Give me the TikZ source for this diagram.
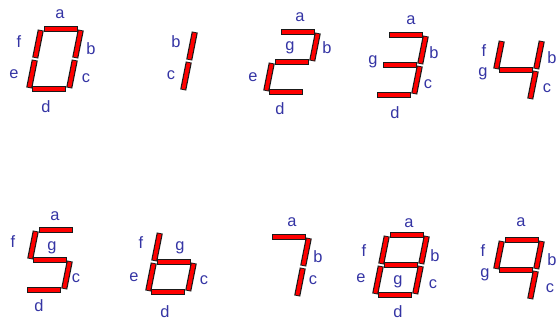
\documentclass[tikz,border=0pt]{standalone}
\usepackage{fontspec}
\setmainfont{Liberation Sans}
\definecolor{segFill}{HTML}{FF0000}
\definecolor{segEdge}{HTML}{1A1A1A}
\definecolor{labelBlue}{HTML}{3434A4}
\tikzset{
  hseg/.style={draw=segFill, line width=3.2pt, shorten <=3.4pt, shorten >=3.4pt,
    preaction={draw=segEdge, line width=5.2pt, shorten <=2.7pt, shorten >=2.7pt}},
  vseg/.style={draw=segFill, line width=3.2pt, shorten <=1.6pt, shorten >=1.6pt,
    preaction={draw=segEdge, line width=5.2pt, shorten <=0.9pt, shorten >=0.9pt}},
  seglabel/.style={font=\fontsize{14}{14}\selectfont, text=labelBlue, inner sep=0pt},
}
% corner points of one digit, bottom-left at the scope origin
\newcommand{\digitframe}{%
  \coordinate (bl) at (0,0);     \coordinate (br) at (40,0);
  \coordinate (ml) at (6,-30);   \coordinate (mr) at (46,-30);
  \coordinate (tl) at (12,-60);  \coordinate (tr) at (52,-60);}

\begin{document}
\begin{tikzpicture}[x=0.03cm, y=-0.03cm]
  \useasboundingbox (0,0) rectangle (557,320);

  % === Top row: 0 ===
  \begin{scope}[shift={(29,89)}]
    \digitframe
    \draw[hseg] (tl) -- (tr);
    \draw[vseg] (tr) -- (mr);
    \draw[vseg] (mr) -- (br);
    \draw[hseg] (bl) -- (br);
    \draw[vseg] (ml) -- (bl);
    \draw[vseg] (tl) -- (ml);
  \end{scope}
  \node[seglabel] (a0) at (60,14) {a};
  \node[seglabel] (b0) at (91,49) {b};
  \node[seglabel] (c0) at (86,78) {c};
  \node[seglabel] (d0) at (46,107) {d};
  \node[seglabel] (e0) at (14,74) {e};
  \node[seglabel] (f0) at (19,42) {f};

  % === Top row: 1 ===
  \begin{scope}[shift={(143,91)}]
    \digitframe
    \draw[vseg] (tr) -- (mr);
    \draw[vseg] (mr) -- (br);
  \end{scope}
  \node[seglabel] (b1) at (176,42) {b};
  \node[seglabel] (c1) at (171,75) {c};

  % === Top row: 2 ===
  \begin{scope}[shift={(266,92)}]
    \digitframe
    \draw[hseg] (tl) -- (tr);
    \draw[vseg] (tr) -- (mr);
    \draw[hseg] (ml) -- (mr);
    \draw[vseg] (ml) -- (bl);
    \draw[hseg] (bl) -- (br);
  \end{scope}
  \node[seglabel] (a2) at (300,17) {a};
  \node[seglabel] (b2) at (327,48) {b};
  \node[seglabel] (g2) at (290,48) {g};
  \node[seglabel] (e2) at (253,77) {e};
  \node[seglabel] (d2) at (280,109) {d};

  % === Top row: 3 ===
  \begin{scope}[shift={(374,95)}]
    \digitframe
    \draw[hseg] (tl) -- (tr);
    \draw[vseg] (tr) -- (mr);
    \draw[hseg] (ml) -- (mr);
    \draw[vseg] (mr) -- (br);
    \draw[hseg] (bl) -- (br);
  \end{scope}
  \node[seglabel] (a3) at (411,20) {a};
  \node[seglabel] (b3) at (434,53) {b};
  \node[seglabel] (g3) at (373,62) {g};
  \node[seglabel] (c3) at (428,84) {c};
  \node[seglabel] (d3) at (395,113) {d};

  % === Top row: 4 ===
  \begin{scope}[shift={(490,100)}]
    \digitframe
    \draw[vseg] (tl) -- (ml);
    \draw[hseg] (ml) -- (mr);
    \draw[vseg] (tr) -- (mr);
    \draw[vseg] (mr) -- (br);
  \end{scope}
  \node[seglabel] (f4) at (484,51) {f};
  \node[seglabel] (g4) at (483,74) {g};
  \node[seglabel] (b4) at (552,58) {b};
  \node[seglabel] (c4) at (547,88) {c};

  % === Bottom row: 5 ===
  \begin{scope}[shift={(24,290)}]
    \digitframe
    \draw[hseg] (tl) -- (tr);
    \draw[vseg] (tl) -- (ml);
    \draw[hseg] (ml) -- (mr);
    \draw[vseg] (mr) -- (br);
    \draw[hseg] (bl) -- (br);
  \end{scope}
  \node[seglabel] (a5) at (55,216) {a};
  \node[seglabel] (f5) at (13,242) {f};
  \node[seglabel] (g5) at (52,248) {g};
  \node[seglabel] (c5) at (76,278) {c};
  \node[seglabel] (d5) at (39,306) {d};

  % === Bottom row: 6 ===
  \begin{scope}[shift={(148,292)}]
    \digitframe
    \draw[vseg] (tl) -- (ml);
    \draw[hseg] (ml) -- (mr);
    \draw[vseg] (ml) -- (bl);
    \draw[vseg] (mr) -- (br);
    \draw[hseg] (bl) -- (br);
  \end{scope}
  \node[seglabel] (f6) at (141,243) {f};
  \node[seglabel] (g6) at (180,248) {g};
  \node[seglabel] (e6) at (134,277) {e};
  \node[seglabel] (c6) at (204,280) {c};
  \node[seglabel] (d6) at (165,312) {d};

  % === Bottom row: 7 ===
  \begin{scope}[shift={(257,297)}]
    \digitframe
    \draw[hseg] (tl) -- (tr);
    \draw[vseg] (tr) -- (mr);
    \draw[vseg] (mr) -- (br);
  \end{scope}
  \node[seglabel] (a7) at (292,222) {a};
  \node[seglabel] (b7) at (318,257) {b};
  \node[seglabel] (c7) at (313,280) {c};

  % === Bottom row: 8 ===
  \begin{scope}[shift={(375,295)}]
    \digitframe
    \draw[hseg] (tl) -- (tr);
    \draw[vseg] (tr) -- (mr);
    \draw[vseg] (mr) -- (br);
    \draw[hseg] (bl) -- (br);
    \draw[vseg] (ml) -- (bl);
    \draw[vseg] (tl) -- (ml);
    \draw[hseg] (ml) -- (mr);
  \end{scope}
  \node[seglabel] (a8) at (409,223) {a};
  \node[seglabel] (b8) at (435,256) {b};
  \node[seglabel] (c8) at (433,284) {c};
  \node[seglabel] (d8) at (398,312) {d};
  \node[seglabel] (e8) at (361,278) {e};
  \node[seglabel] (f8) at (364,251) {f};
  \node[seglabel] (g8) at (398,282) {g};

  % === Bottom row: 9 ===
  \begin{scope}[shift={(490,300)}]
    \digitframe
    \draw[hseg] (tl) -- (tr);
    \draw[vseg] (tr) -- (mr);
    \draw[vseg] (mr) -- (br);
    \draw[vseg] (tl) -- (ml);
    \draw[hseg] (ml) -- (mr);
  \end{scope}
  \node[seglabel] (a9) at (521,222) {a};
  \node[seglabel] (b9) at (552,260) {b};
  \node[seglabel] (c9) at (550,288) {c};
  \node[seglabel] (f9) at (483,251) {f};
  \node[seglabel] (g9) at (485,275) {g};

\end{tikzpicture}
\end{document}
